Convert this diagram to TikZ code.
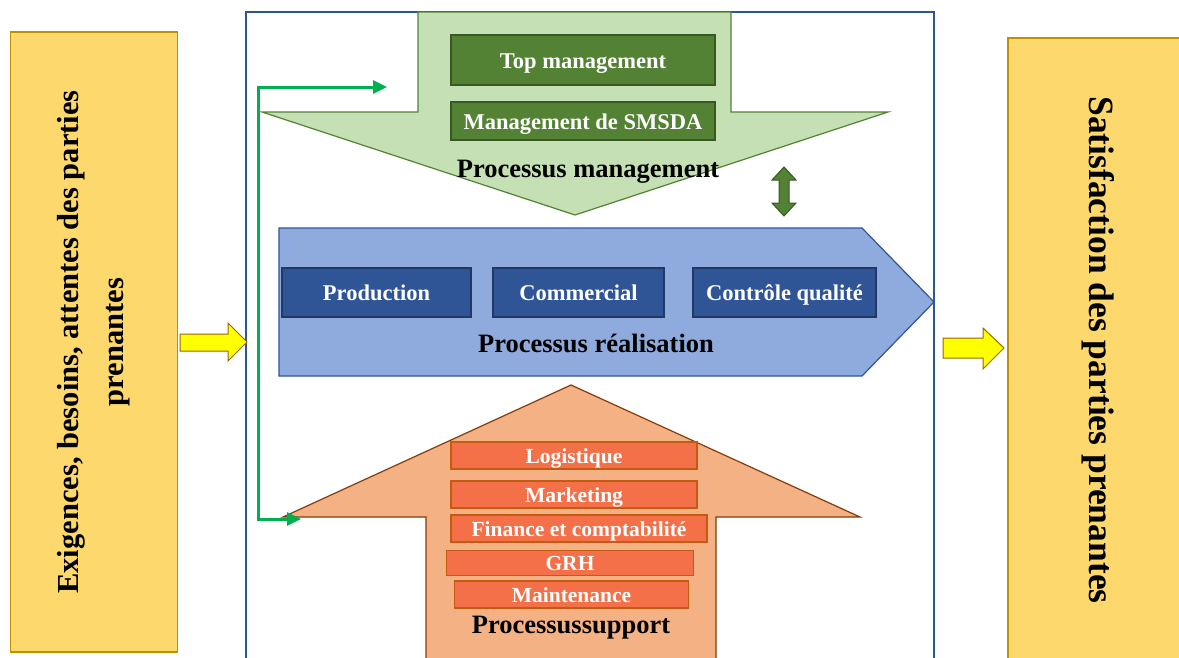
\documentclass[tikz,border=0pt]{standalone}
\usepackage{fontspec}
\setmainfont{Liberation Serif}
\usetikzlibrary{arrows.meta}
\definecolor{sidefill}{HTML}{FDD86D}
\definecolor{sidedraw}{HTML}{BF9000}
\definecolor{yarrfill}{HTML}{FFFF00}
\definecolor{yarrdraw}{HTML}{9C6500}
\definecolor{frameblue}{HTML}{2F5597}
\definecolor{mgfill}{HTML}{C5E0B4}
\definecolor{mgdraw}{HTML}{548235}
\definecolor{mgbox}{HTML}{548235}
\definecolor{mgboxdraw}{HTML}{385723}
\definecolor{rlfill}{HTML}{8FAADC}
\definecolor{rldraw}{HTML}{2F5597}
\definecolor{rlbox}{HTML}{2F5597}
\definecolor{rlboxdraw}{HTML}{1F3864}
\definecolor{spfill}{HTML}{F4B183}
\definecolor{spdraw}{HTML}{843C0C}
\definecolor{spbox}{HTML}{F47048}
\definecolor{spboxdraw}{HTML}{C55A11}
\definecolor{conngreen}{HTML}{00B050}
\begin{document}
\begin{tikzpicture}[x=1pt,y=-1pt,
  sidebox/.style={draw=sidedraw,fill=sidefill,line width=1.2pt,inner sep=0pt,align=center,font=\bfseries},
  yarrow/.style={draw=yarrdraw,fill=yarrfill,line width=1pt},
  bigarrow/.style={line width=1.2pt},
  procbox/.style={draw,line width=1.5pt,inner sep=0pt,text=white,text height=16pt,text depth=0pt,font=\fontsize{22.5}{26}\selectfont\bfseries},
  mgb/.style={procbox,fill=mgbox,draw=mgboxdraw},
  rlb/.style={procbox,fill=rlbox,draw=rlboxdraw},
  spb/.style={procbox,fill=spbox,draw=spboxdraw,text height=15pt,font=\fontsize{21.5}{25}\selectfont\bfseries},
  title/.style={inner sep=0pt,anchor=base,font=\fontsize{26.5}{30}\selectfont\bfseries},
  conn/.style={draw=conngreen,line width=3pt,{Triangle[length=14pt,width=13pt]}-{Triangle[length=14pt,width=13pt]}}
]
\useasboundingbox (0,0) rectangle (1179,657);
\clip (0,0) rectangle (1179,657);
\fill[white] (0,0) rectangle (1179,657);

% side boxes
\node[sidebox,rotate=90,minimum width=620pt,minimum height=167pt,font=\fontsize{30.5}{45}\selectfont\bfseries] (req) at (94,342)
  {Exigences, besoins, attentes des parties\\prenantes};
\node[sidebox,rotate=-90,minimum width=624pt,minimum height=180pt,font=\fontsize{35.5}{40}\selectfont\bfseries] (sat) at (1098,350)
  {Satisfaction des parties prenantes};

% main frame
\draw[frameblue,line width=1.2pt] (246,12) rectangle (934,680);

% yellow arrows
\draw[yarrow] (180,334) -- (228,334) -- (228,323) -- (247,342) -- (228,361) -- (228,351) -- (180,351) -- cycle;
\draw[yarrow] (943,338) -- (983,338) -- (983,328) -- (1004,348) -- (983,369) -- (983,358) -- (943,358) -- cycle;

% management arrow
\draw[bigarrow,draw=mgdraw,fill=mgfill] (418,12) -- (731,12) -- (731,112) -- (888,112) -- (575,215) -- (262,112) -- (418,112) -- cycle;
% realisation arrow
\draw[bigarrow,draw=rldraw,fill=rlfill] (279,228) -- (862,228) -- (934,302) -- (862,376) -- (279,376) -- cycle;
% support arrow
\draw[bigarrow,draw=spdraw,fill=spfill] (571,385) -- (860,517) -- (716,517) -- (716,680) -- (426,680) -- (426,517) -- (283,517) -- cycle;

% double arrow
\draw[line width=1pt,draw=mgboxdraw,fill=mgbox] (784,167) -- (796,180) -- (789,180) -- (789,203) -- (796,203) -- (784,216) -- (772,203) -- (779,203) -- (779,180) -- (772,180) -- cycle;

% management boxes
\node[mgb,minimum width=264pt,minimum height=50pt] (top) at (583,60) {Top management};
\node[mgb,minimum width=264pt,minimum height=38pt] (smsda) at (583,121) {Management de SMSDA};
\node[title] (tmg) at (588,177) {Processus management};

% realisation boxes
\node[rlb,minimum width=189pt,minimum height=49pt] (prod) at (376.5,292.5) {Production};
\node[rlb,minimum width=171pt,minimum height=49pt] (comm) at (578.5,292.5) {Commercial};
\node[rlb,minimum width=183pt,minimum height=49pt] (cq) at (784.5,292.5) {Contrôle qualité};
\node[title] (trl) at (596,352) {Processus réalisation};

% support boxes
\node[spb,minimum width=246pt,minimum height=27pt] (log) at (574,455.5) {Logistique};
\node[spb,minimum width=246pt,minimum height=27pt] (mkt) at (574,494.5) {Marketing};
\node[spb,minimum width=256pt,minimum height=27pt] (fin) at (579,528.5) {Finance et comptabilité};
\node[spb,minimum width=247pt,minimum height=25pt] (grh) at (570,563) {GRH};
\node[spb,minimum width=234pt,minimum height=27pt] (mnt) at (571.5,594.5) {Maintenance};
\node[title] (tsp) at (571,633) {Processussupport};

% green connector
\coordinate (gtop) at (387,87);
\coordinate (gbot) at (301,519);
\draw[conn,line join=miter] (gtop) -- (258,87) -- (258,519) -- (gbot);
\end{tikzpicture}
\end{document}
